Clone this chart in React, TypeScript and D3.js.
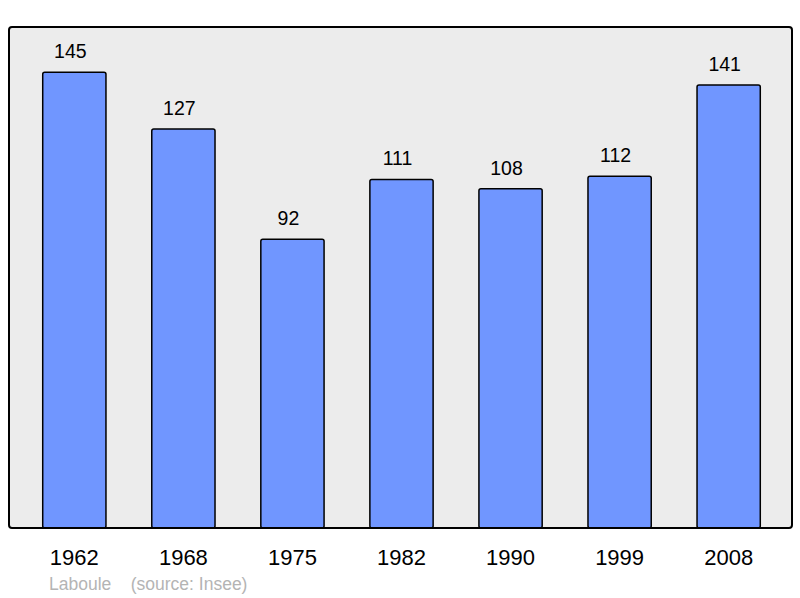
import React, {useEffect, useRef} from 'react';
import * as d3 from 'd3';

const years: string[] = ['1962', '1968', '1975', '1982', '1990', '1999', '2008'];
const population: number[] = [145, 127, 92, 111, 108, 112, 141];
const placeName = 'Laboule';
const sourceNote = '(source: Insee)';

const W = 800;
const H = 598;

const App: React.FC = () => {
  const ref = useRef<SVGSVGElement>(null);

  useEffect(() => {
    document.body.style.margin = '0';
    const svg = d3.select(ref.current!);
    svg.selectAll('*').remove();

    const left = 9, right = 792, top = 27, bottom = 528;

    const x = d3.scaleBand<string>()
      .domain(years)
      .range([left + 1, right + 1])
      .paddingInner(0.42)
      .paddingOuter(0.3);

    const y = d3.scaleLinear()
      .domain([0, 159.4])
      .range([529, top]);

    // plot background
    svg.append('rect')
      .attr('x', left)
      .attr('y', top)
      .attr('width', right - left)
      .attr('height', bottom - top)
      .attr('rx', 3)
      .attr('fill', '#ececec');

    const data = years.map((yr, i) => ({year: yr, value: population[i]}));

    svg.append('g')
      .selectAll('rect')
      .data(data)
      .join('rect')
      .attr('x', d => x(d.year)!)
      .attr('y', d => y(d.value))
      .attr('width', x.bandwidth())
      .attr('height', d => bottom - y(d.value))
      .attr('rx', 2)
      .attr('fill', '#7096ff')
      .attr('stroke', '#000')
      .attr('stroke-width', 1.5);

    // value labels
    svg.append('g')
      .attr('text-anchor', 'middle')
      .style('font', '19.5px "Liberation Sans", Arial, sans-serif')
      .selectAll('text')
      .data(data)
      .join('text')
      .attr('x', d => x(d.year)! + x.bandwidth() / 2 - 4)
      .attr('y', d => y(d.value) - 14)
      .attr('fill', '#000')
      .text(d => d.value);

    // frame drawn over bars
    svg.append('rect')
      .attr('x', left)
      .attr('y', top)
      .attr('width', right - left)
      .attr('height', bottom - top)
      .attr('rx', 3)
      .attr('fill', 'none')
      .attr('stroke', '#000')
      .attr('stroke-width', 2);

    // year labels
    svg.append('g')
      .attr('text-anchor', 'middle')
      .style('font', '22px "Liberation Sans", Arial, sans-serif')
      .selectAll('text')
      .data(years)
      .join('text')
      .attr('x', d => x(d)! + x.bandwidth() / 2)
      .attr('y', 565)
      .attr('fill', '#000')
      .text(d => d);

    svg.append('text')
      .attr('x', 49)
      .attr('y', 590)
      .style('font', '17.5px "Liberation Sans", Arial, sans-serif')
      .attr('fill', '#b4b4b4')
      .attr('xml:space', 'preserve')
      .text(`${placeName}    ${sourceNote}`);
  }, []);

  return <svg ref={ref} width={W} height={H} style={{display: 'block', background: '#fff'}}/>;
};

export default App;
